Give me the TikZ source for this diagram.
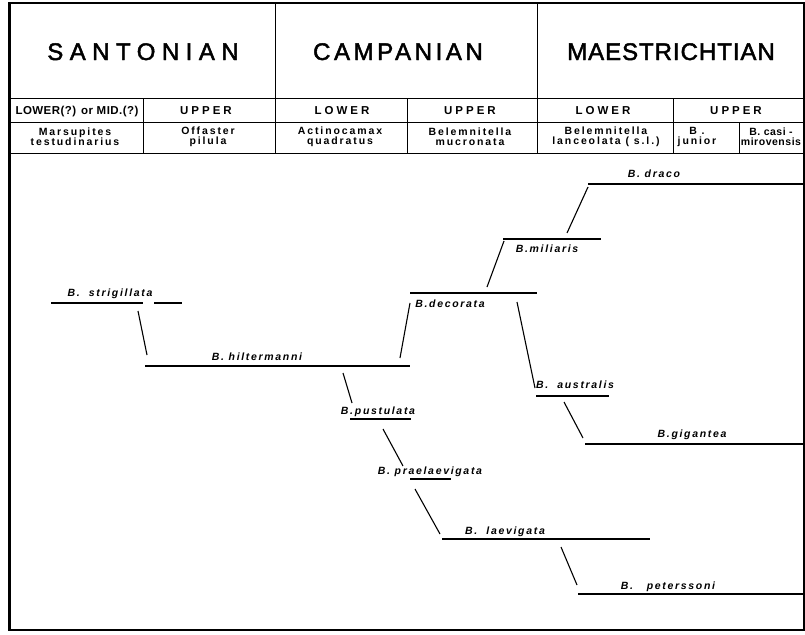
\documentclass[tikz,border=0pt]{standalone}
\usepackage{fontspec}
\setmainfont{Liberation Sans}
\newfontfamily\stagefont[FakeBold=2]{Liberation Sans}
\usetikzlibrary{positioning}

\newcommand{\trackby}[1]{\addfontfeature{LetterSpace=#1}}

\tikzset{
  frame/.style={line width=1.4pt},
  grid/.style={line width=0.9pt},
  lineage/.style={line width=1.8pt},
  link/.style={line width=1.1pt},
  stagename/.style={font=\fontsize{24}{26}\stagefont, anchor=base, inner sep=0pt},
  substage/.style={font=\fontsize{11.5}{12}\selectfont\bfseries\trackby{26}, anchor=base, inner sep=0pt},
  zone/.style={font=\fontsize{10.5}{10}\selectfont\bfseries\trackby{18}, align=center, inner sep=0pt},
  taxon/.style={font=\fontsize{10.5}{11}\selectfont\bfseries\itshape\trackby{16}, anchor=base, inner sep=0pt},
}

\begin{document}
\begin{tikzpicture}[x=1pt, y=-1pt]
    \useasboundingbox (0,0) rectangle (805,634);
    % Frame
    \draw[frame] (9,3) rectangle (804,630);
    \draw[line width=3pt] (9,3) -- (9,630);
    \draw[line width=2pt] (9,3) -- (804,3);
    % Table rows
    \draw[grid] (9,98) -- (804,98);
    \draw[grid] (9,122) -- (804,122);
    \draw[grid] (9,153) -- (804,153);
    % Table columns
    \draw[grid] (275,3) -- (275,153);
    \draw[grid] (537,3) -- (537,153);
    \foreach \x in {143, 407, 673} \draw[grid] (\x,98) -- (\x,153);
    \draw[grid] (739,122) -- (739,153);
    % Stages
    \node[stagename] (sant) at (143,60) {\trackby{27}SANTONIAN};
    \node[stagename] (camp) at (398,60) {\trackby{15}CAMPANIAN};
    \node[stagename] (maes) at (671,60) {\trackby{4}MAESTRICHTIAN};
    % Substages
    \node[substage] (sant-l) at (77,114) {\trackby{4}LOWER(?) or MID.(?)};
    \node[substage] (sant-u) at (206,114) {UPPER};
    \node[substage] (camp-l) at (342,114) {LOWER};
    \node[substage] (camp-u) at (470,114) {UPPER};
    \node[substage] (maes-l) at (603,114) {LOWER};
    \node[substage] (maes-u) at (736,114) {UPPER};
    % Zones
    \node[zone] (z-mars) at (75,137) {Marsupites\\testudinarius};
    \node[zone] (z-offa) at (208,137) {Offaster\\pilula};
    \node[zone] (z-acti) at (340,137) {Actinocamax\\quadratus};
    \node[zone] (z-mucr) at (470,137) {Belemnitella\\mucronata};
    \node[zone] (z-lanc) at (606,137) {Belemnitella\\lanceolata ( s.l.)};
    \node[zone] (z-juni) at (697,137) {B .\\junior};
    \node[zone] (z-casi) at (771,137) {\trackby{5}B. casi -\\\trackby{5}mirovensis};
    % Lineages
    \draw[lineage] (51,303) -- (143,303);
    \draw[lineage] (154,303) -- (182,303);
    \draw[lineage] (145,366) -- (410,366);
    \draw[lineage] (410,293) -- (537,293);
    \draw[lineage] (503,239) -- (601,239);
    \draw[lineage] (588,184) -- (804,184);
    \draw[lineage] (536,396) -- (609,396);
    \draw[lineage] (585,444) -- (804,444);
    \draw[lineage] (350,419) -- (411,419);
    \draw[lineage] (410,479) -- (451,479);
    \draw[lineage] (442,539) -- (650,539);
    \draw[lineage] (578,594) -- (804,594);
    % Species
    \node[taxon] (strig) at (110,296) {B.\ \ strigillata};
    \node[taxon] (hilt) at (257,360) {B.\ hiltermanni};
    \node[taxon] (deco) at (450,307) {B.\,decorata};
    \node[taxon] (mili) at (547,252) {B.\,miliaris};
    \node[taxon] (drac) at (654,177) {B.\ draco};
    \node[taxon] (aust) at (575,388) {B.\ \ australis};
    \node[taxon] (giga) at (692,437) {B.\,gigantea};
    \node[taxon] (pust) at (378,414) {B.\,pustulata};
    \node[taxon] (prae) at (430,474) {B.\ praelaevigata};
    \node[taxon] (laev) at (505,534) {B.\ \ laevigata};
    \node[taxon] (pete) at (668,589) {B.\ \ \ peterssoni};
    % Branch points
    \coordinate (strig-out) at (138,311);
    \coordinate (hilt-in) at (147,355);
    \coordinate (hilt-up) at (400,358);
    \coordinate (deco-in) at (410,303);
    \coordinate (hilt-dn) at (343,373);
    \coordinate (pust-in) at (352,403);
    \coordinate (deco-up) at (487,287);
    \coordinate (mili-in) at (504,241);
    \coordinate (mili-up) at (567,233);
    \coordinate (drac-in) at (588,187);
    \coordinate (deco-dn) at (517,302);
    \coordinate (aust-in) at (535,388);
    \coordinate (aust-dn) at (564,402);
    \coordinate (giga-in) at (583,438);
    \coordinate (pust-dn) at (383,429);
    \coordinate (prae-in) at (403,466);
    \coordinate (prae-dn) at (415,489);
    \coordinate (laev-in) at (440,534);
    \coordinate (laev-dn) at (561,547);
    \coordinate (pete-in) at (577,585);
    % Descent
    \draw[link] (strig-out) -- (hilt-in);
    \draw[link] (hilt-up) -- (deco-in);
    \draw[link] (hilt-dn) -- (pust-in);
    \draw[link] (deco-up) -- (mili-in);
    \draw[link] (mili-up) -- (drac-in);
    \draw[link] (deco-dn) -- (aust-in);
    \draw[link] (aust-dn) -- (giga-in);
    \draw[link] (pust-dn) -- (prae-in);
    \draw[link] (prae-dn) -- (laev-in);
    \draw[link] (laev-dn) -- (pete-in);
\end{tikzpicture}
\end{document}
